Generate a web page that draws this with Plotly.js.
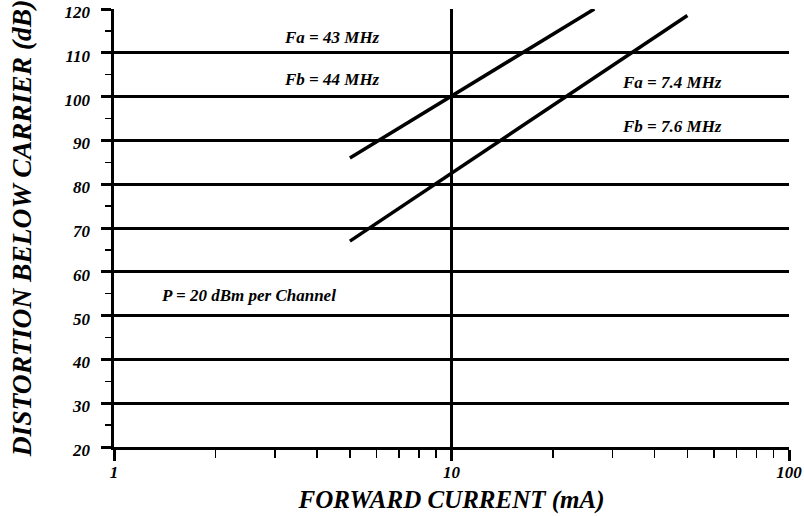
<!DOCTYPE html>
<html>
<head>
<meta charset="utf-8">
<script src="https://cdn.plot.ly/plotly-3.0.1.min.js"></script>
<style>html,body{margin:0;padding:0;background:#fff;}#chart{width:804px;height:516px;}</style>
</head>
<body>
<div id="chart"></div>
<script>
// Data
const current43 = [5, 26.5];          // mA, Fa=43 / Fb=44 MHz line
const distortion43 = [86, 120];       // dB
const current7 = [5, 50];             // mA, Fa=7.4 / Fb=7.6 MHz line
const distortion7 = [67, 118.5];      // dB
const yTickVals = [20, 30, 40, 50, 60, 70, 80, 90, 100, 110, 120];
const xTickVals = [1, 10, 100];
const xTickText = ['1', '10', '100'];
const labels = ['Fa = 43 MHz', 'Fb = 44 MHz', 'Fa = 7.4 MHz', 'Fb = 7.6 MHz', 'P = 20 dBm per Channel'];

const FONT = 'Liberation Serif';
const bi = (size) => ({family: FONT, size: size, color: '#000', weight: 'bold', style: 'italic'});

const traces = [
  {x: current43, y: distortion43, mode: 'lines', line: {color: '#000', width: 3.5}, cliponaxis: true, hoverinfo: 'skip'},
  {x: current7, y: distortion7, mode: 'lines', line: {color: '#000', width: 3.5}, cliponaxis: true, hoverinfo: 'skip'}
];

const annPos = [
  [Math.log10(4.43), 113.4],
  [Math.log10(4.43), 103.8],
  [Math.log10(45), 103.3],
  [Math.log10(45), 93.1],
  [Math.log10(2.51), 54.5]
];

const layout = {
  width: 804, height: 516,
  margin: {l: 114, r: 15, t: 9, b: 69},
  paper_bgcolor: '#fff', plot_bgcolor: '#fff',
  showlegend: false,
  font: bi(17),
  xaxis: {
    type: 'log', range: [0, 2],
    tickvals: xTickVals, ticktext: xTickText,
    ticks: 'outside', ticklen: 11, tickwidth: 3, tickcolor: '#000',
    showgrid: true, gridcolor: '#000', gridwidth: 3.5,
    showline: true, linecolor: '#000', linewidth: 3,
    zeroline: false,
    tickfont: bi(17), ticklabelstandoff: -3,
    minor: {ticks: 'outside', ticklen: 8, tickwidth: 1.5, tickcolor: '#000', dtick: 'D1', showgrid: false},
    title: {text: 'FORWARD CURRENT (mA)', font: bi(25), standoff: 10},
    automargin: false, fixedrange: true
  },
  yaxis: {
    range: [20, 120],
    tickvals: yTickVals,
    ticks: 'outside', ticklen: 10, tickwidth: 3, tickcolor: '#000',
    showgrid: true, gridcolor: '#000', gridwidth: 3,
    showline: true, linecolor: '#000', linewidth: 3.5,
    zeroline: false,
    tickfont: bi(17), ticklabelstandoff: 7, ticklabelshift: 3,
    minor: {ticks: 'outside', ticklen: 6, tickwidth: 1.5, tickcolor: '#000', dtick: 5, showgrid: false},
    title: {text: 'DISTORTION BELOW CARRIER (dB)', font: bi(27.5), standoff: 26},
    automargin: false, fixedrange: true
  },
  annotations: labels.map((t, i) => ({
    text: t, x: annPos[i][0], y: annPos[i][1], xref: 'x', yref: 'y',
    showarrow: false, font: bi(17), xanchor: 'center', yanchor: 'middle'
  }))
};

Plotly.newPlot('chart', traces, layout, {staticPlot: true, displayModeBar: false});
</script>
</body>
</html>
